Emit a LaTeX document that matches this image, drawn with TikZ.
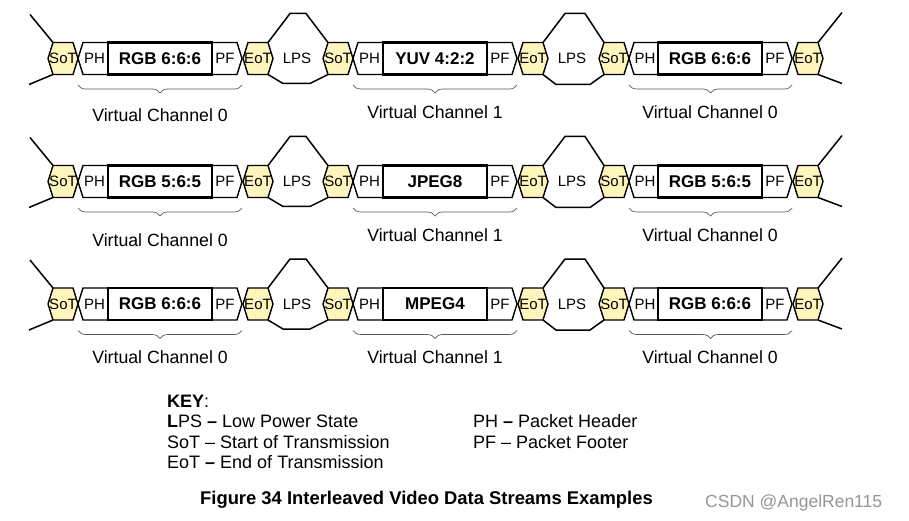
\documentclass[tikz,border=0pt]{standalone}
\usepackage{fontspec}
\setmainfont{Liberation Sans}
\usetikzlibrary{decorations.pathreplacing}
\definecolor{sotfill}{RGB}{255,246,190}
\definecolor{bracegray}{RGB}{90,90,90}
\definecolor{wmgray}{RGB}{150,150,150}
\tikzset{
  outl/.style={draw=black, line width=1.4pt, line join=miter},
  hexfill/.style={outl, fill=sotfill},
  whitefill/.style={outl, fill=white},
  databox/.style={draw=black, line width=2.8pt, fill=white, minimum width=104pt, minimum height=32pt, inner sep=0pt, font=\fontsize{17}{17}\selectfont\bfseries},
  lbl/.style={font=\fontsize{15}{15}\selectfont, inner sep=0pt},
  vclbl/.style={font=\fontsize{17.7}{17.7}\selectfont, inner sep=0pt, anchor=base},
  vcbrace/.style={draw=bracegray, line width=0.7pt, decorate, decoration={brace, mirror, amplitude=8pt}},
  lpsline/.style={draw=black, line width=1.5pt, line join=miter},
  keytxt/.style={font=\fontsize{18}{18}\selectfont, inner sep=0pt, anchor=base west},
}
% one group: #1 name, #2 SoT left vertex, #3 PH vertex, #4 box left, #5 box right, #6 row y, #7 box label
\newcommand{\grp}[7]{%
  \draw[hexfill] (#2,#6) -- ++(5,-16) -- ++(20,0) -- ++(5,16) -- ++(-5,16) -- ++(-20,0) -- cycle;
  \node[lbl] (#1sot) at (#2+15,#6) {SoT};
  \draw[whitefill] (#3,#6) -- (#3+5,#6-16) -- (#4,#6-16) -- (#4,#6+16) -- (#3+5,#6+16) -- cycle;
  \node[lbl] (#1ph) at ({(#3+#4)/2+1.5},#6) {PH};
  \draw[whitefill] (#5,#6-16) -- (#5+25,#6-16) -- (#5+30,#6) -- (#5+25,#6+16) -- (#5,#6+16) -- cycle;
  \node[lbl] (#1pf) at (#5+13,#6) {PF};
  \draw[hexfill] (#5+31,#6) -- ++(5,-16) -- ++(20,0) -- ++(5,16) -- ++(-5,16) -- ++(-20,0) -- cycle;
  \node[lbl] (#1eot) at (#5+46,#6) {EoT};
  \node[databox] (#1box) at ({(#4+#5)/2},#6) {#7};
  \draw[vcbrace] (#3,#6+26.5) -- (#5+30,#6+26.5);
}
% one row: #1 id, #2 y, #3-#5 labels
\newcommand{\streamrow}[5]{%
  \draw[lpsline] (30,#2-44) -- (53,#2-16);
  \draw[lpsline] (29,#2+26) -- (53,#2+16);
  \draw[lpsline] (268,#2-16) -- (290,#2-45) -- (306,#2-45) -- (328,#2-16);
  \draw[lpsline] (268,#2+16) -- (283,#2+25) -- (310,#2+25) -- (328,#2+16);
  \draw[lpsline] (543,#2-16) -- (565,#2-45) -- (585,#2-45) -- (604,#2-16);
  \draw[lpsline] (543,#2+16) -- (556,#2+26) -- (590,#2+26) -- (604,#2+16);
  \draw[lpsline] (818,#2-16) -- (842,#2-46);
  \draw[lpsline] (818,#2+16) -- (842,#2+25);
  \node[lbl] (#1lpsa) at (297,#2) {LPS};
  \node[lbl] (#1lpsb) at (572,#2) {LPS};
  \grp{#1a}{48}{78}{108}{212}{#2}{#3}
  \grp{#1b}{323}{353}{383}{487}{#2}{#4}
  \grp{#1c}{599}{629}{658}{762}{#2}{#5}
}
\begin{document}
\begin{tikzpicture}[x=1pt,y=-1pt]
\fill[white] (0,0) rectangle (909,521);
\useasboundingbox (0,0) rectangle (909,521);

\streamrow{ra}{58.5}{RGB 6:6:6}{YUV 4:2:2}{RGB 6:6:6}
\streamrow{rb}{181.5}{RGB 5:6:5}{JPEG8}{RGB 5:6:5}
\streamrow{rc}{304}{RGB 6:6:6}{MPEG4}{RGB 6:6:6}

\node[vclbl] (vca1) at (160,122) {Virtual Channel 0};
\node[vclbl] (vca2) at (435,118.5) {Virtual Channel 1};
\node[vclbl] (vca3) at (710,118.5) {Virtual Channel 0};
\node[vclbl] (vcb1) at (160,246) {Virtual Channel 0};
\node[vclbl] (vcb2) at (435,241.5) {Virtual Channel 1};
\node[vclbl] (vcc3) at (710,241.5) {Virtual Channel 0};
\node[vclbl] (vcc1) at (160,363.5) {Virtual Channel 0};
\node[vclbl] (vcc2) at (435,363.5) {Virtual Channel 1};
\node[vclbl] (vcc3b) at (710,363.5) {Virtual Channel 0};

\node[keytxt] (key) at (167,407.5) {\textbf{KEY}:};
\node[keytxt] (klps) at (167,427) {\textbf{L}PS \textbf{\textendash} Low Power State};
\node[keytxt] (ksot) at (167,448) {SoT \textendash{} Start of Transmission};
\node[keytxt] (keot) at (167,468.5) {EoT \textbf{\textendash} End of Transmission};
\node[keytxt] (kph) at (473,427) {PH \textbf{\textendash} Packet Header};
\node[keytxt] (kpf) at (473,448) {PF \textendash{} Packet Footer};

\node[font=\fontsize{18.4}{18.4}\selectfont\bfseries, inner sep=0pt, anchor=base] (cap) at (426.5,504) {Figure 34 Interleaved Video Data Streams Examples};
\node[font=\fontsize{17.5}{17.5}\selectfont, text=wmgray, inner sep=0pt, anchor=base west] (wm) at (705,507) {CSDN @AngelRen115};
\end{tikzpicture}
\end{document}
